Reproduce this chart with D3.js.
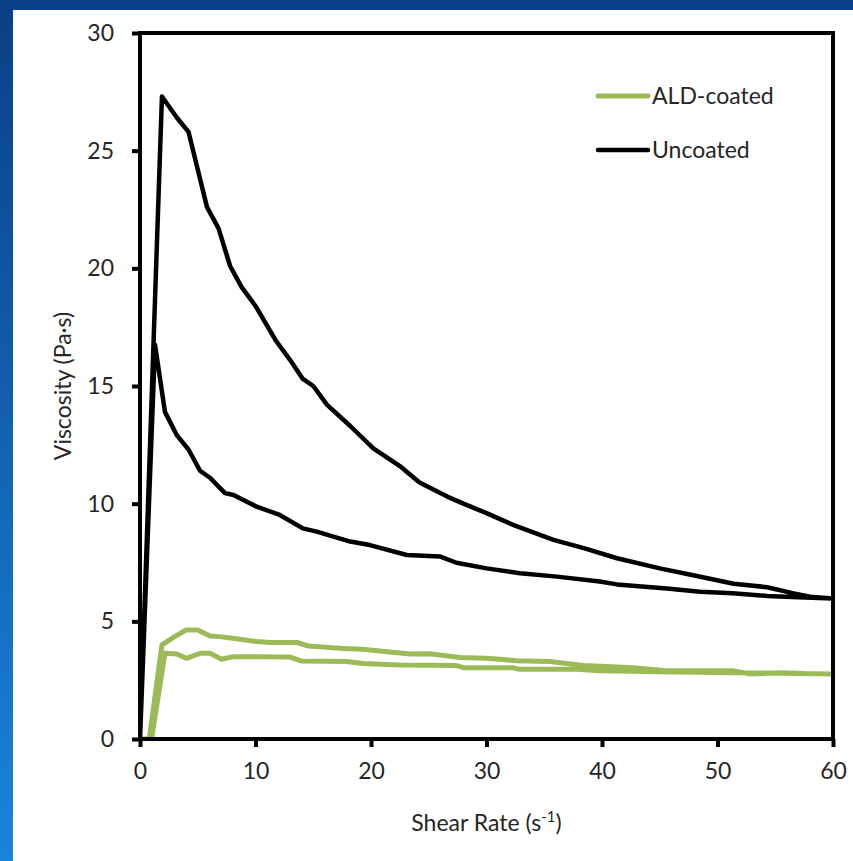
<!DOCTYPE html>
<html>
<head>
<meta charset="utf-8">
<script src="https://cdn.jsdelivr.net/npm/d3@7"></script>
<style>
  body { margin: 0; }
  text { font-family: Lato, 'Open Sans', sans-serif; fill: #262626; }
</style>
</head>
<body>
<svg id="chart" width="853" height="861"></svg>
<script>
// Uncoated: ramp up (upper branch) then ramp down (lower branch)
const uncoatedShear = [0, 1.9, 3.2, 4.2, 5.0, 5.8, 6.8, 7.8, 8.8, 10, 11.8, 13, 14.1, 15, 16.2, 18.2, 20.2, 22.5, 24.2, 26.6, 28, 30, 32.3, 35.8, 38.5, 41.3, 45, 48, 51.4, 54.3, 56.5, 58, 60,
  57, 54.3, 51.3, 48.5, 45.6, 41.3, 39.8, 36.1, 32.9, 30, 27.4, 26, 23.1, 19.9, 18.2, 15.3, 14.1, 12.1, 10.1, 8.1, 7.36, 6.06, 5.2, 4.2, 3.2, 2.16, 1.3, 0]
const uncoatedVisc = [0, 27.3, 26.4, 25.8, 24.2, 22.6, 21.7, 20.1, 19.2, 18.4, 16.9, 16.1, 15.3, 15.0, 14.2, 13.3, 12.35, 11.6, 10.9, 10.3, 10.0, 9.6, 9.1, 8.46, 8.1, 7.68, 7.25, 6.95, 6.6, 6.45, 6.2, 6.05, 5.97,
  6.02, 6.08, 6.19, 6.26, 6.4, 6.57, 6.69, 6.9, 7.04, 7.25, 7.49, 7.75, 7.82, 8.24, 8.39, 8.81, 8.95, 9.52, 9.87, 10.37, 10.45, 11.1, 11.4, 12.3, 12.9, 13.9, 16.75, 0]

// ALD-coated
const aldShear = [0, 0.8, 1.9, 3.0, 4.0, 5.0, 6.06, 6.9, 8.5, 10.1, 11.3, 13.6, 14.6, 17.6, 19.3, 21.4, 23.4, 25.1, 27.7, 30, 32.6, 35.5, 38.4, 42.7, 45.6, 51.3, 52.8, 55.7, 57.5, 60,
  57, 51.3, 45, 39.8, 37.8, 32.9, 32.3, 28, 27.4, 22.5, 19.3, 17.9, 14, 13, 8.1, 7.07, 6.06, 5.2, 4.0, 3.2, 2.16, 1.0]
const aldVisc = [0, 0, 4.0, 4.35, 4.63, 4.63, 4.38, 4.35, 4.25, 4.14, 4.1, 4.1, 3.95, 3.85, 3.81, 3.71, 3.61, 3.62, 3.46, 3.43, 3.33, 3.29, 3.12, 3.03, 2.9, 2.9, 2.76, 2.82, 2.78, 2.76,
  2.78, 2.82, 2.86, 2.9, 2.96, 2.96, 3.03, 3.03, 3.12, 3.14, 3.21, 3.29, 3.31, 3.48, 3.5, 3.39, 3.64, 3.64, 3.43, 3.61, 3.64, 0]

const xTicks = [0, 10, 20, 30, 40, 50, 60]
const yTicks = [0, 5, 10, 15, 20, 25, 30]

const series = [
  { name: 'ALD-coated', color: '#9bbb59', width: 5, x: aldShear, y: aldVisc },
  { name: 'Uncoated', color: '#000000', width: 4.5, x: uncoatedShear, y: uncoatedVisc },
]

const W = 853, H = 861
const margin = { left: 140, top: 33, right: 20, bottom: 122 }
const innerW = W - margin.left - margin.right
const innerH = H - margin.top - margin.bottom

const svg = d3.select('#chart')

// blue slide background with white panel
const grad = svg.append('defs').append('linearGradient')
  .attr('id', 'bg').attr('x1', 0).attr('y1', 0).attr('x2', 0).attr('y2', 1)
grad.append('stop').attr('offset', '0%').attr('stop-color', '#0b3f86')
grad.append('stop').attr('offset', '100%').attr('stop-color', '#1a84da')
svg.append('rect').attr('width', W).attr('height', H).attr('fill', 'url(#bg)')
svg.append('rect').attr('x', 13).attr('y', 10).attr('width', W - 13).attr('height', H - 10).attr('fill', '#fff')

const x = d3.scaleLinear().domain([0, 60]).range([0, innerW])
const y = d3.scaleLinear().domain([0, 30]).range([innerH, 0])

const g = svg.append('g').attr('transform', `translate(${margin.left},${margin.top})`)

const line = d3.line()
  .x((d) => x(d[0]))
  .y((d) => y(d[1]))
  .curve(d3.curveLinear)

// clip so the lines do not spill past the frame
g.append('clipPath').attr('id', 'plot')
  .append('rect').attr('width', innerW).attr('height', innerH)

g.append('g').attr('clip-path', 'url(#plot)')
  .selectAll('path')
  .data(series)
  .enter()
  .append('path')
  .attr('fill', 'none')
  .attr('stroke', (d) => d.color)
  .attr('stroke-width', (d) => d.width)
  .attr('stroke-linejoin', 'round')
  .attr('d', (d) => line(d.x.map((v, i) => [v, d.y[i]])))

// frame
g.append('rect')
  .attr('width', innerW).attr('height', innerH)
  .attr('fill', 'none').attr('stroke', '#000').attr('stroke-width', 4)

const xAxis = d3.axisBottom(x).tickValues(xTicks).tickSize(8).tickPadding(16)
const yAxis = d3.axisLeft(y).tickValues(yTicks).tickSize(8).tickPadding(18)

const xg = g.append('g').attr('transform', `translate(0,${innerH})`).call(xAxis)
const yg = g.append('g').call(yAxis)
;[xg, yg].forEach((a) => {
  a.select('.domain').remove()
  a.selectAll('.tick line').attr('stroke', '#000').attr('stroke-width', 4)
  a.selectAll('.tick text').style('font-size', '23px').style('font-family', 'Lato, sans-serif').attr('fill', '#262626')
})

// axis titles
const xt = g.append('text')
  .attr('x', innerW / 2).attr('y', innerH + 92)
  .attr('text-anchor', 'middle').style('font-size', '23px')
xt.append('tspan').text('Shear Rate (s')
xt.append('tspan').text('-1').attr('dy', -9).style('font-size', '15px')
xt.append('tspan').text(')').attr('dy', 9)

g.append('text')
  .attr('transform', `translate(${63 - margin.left},${innerH / 2}) rotate(-90)`)
  .attr('text-anchor', 'middle').attr('dy', '0.35em')
  .style('font-size', '23px')
  .text('Viscosity (Pa·s)')

// legend
const legend = svg.append('g').attr('transform', 'translate(598,96)')
const item = legend.selectAll('g').data(series).enter().append('g')
  .attr('transform', (d, i) => `translate(0,${i * 54})`)
item.append('line').attr('x1', 0).attr('x2', 50)
  .attr('stroke', (d) => d.color).attr('stroke-width', (d) => d.width)
  .attr('stroke-linecap', 'round')
item.append('text').attr('x', 54).attr('dy', '0.35em')
  .style('font-size', '23px').text((d) => d.name)
</script>
</body>
</html>
